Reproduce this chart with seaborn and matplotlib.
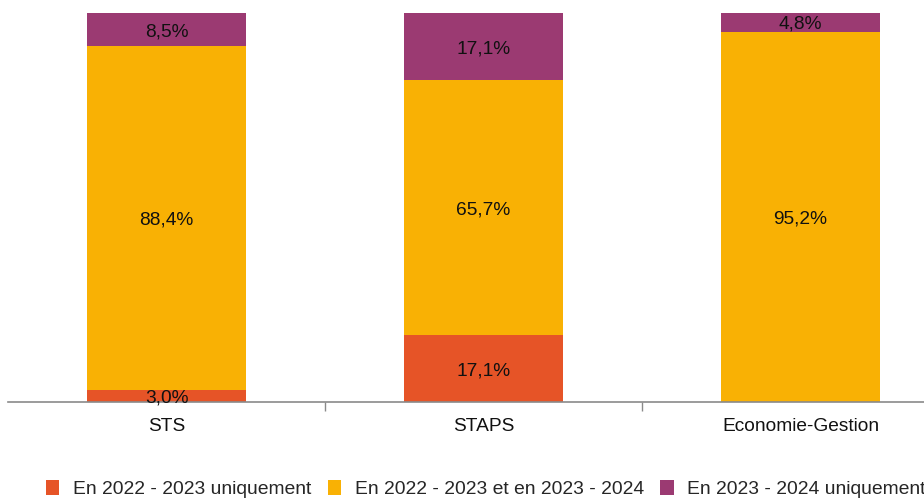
import matplotlib
matplotlib.use("Agg")
import matplotlib.pyplot as plt
import seaborn as sns
import pandas as pd
import numpy as np
from matplotlib.patches import Patch

categories = ["STS", "STAPS", "Economie-Gestion"]
series_names = ["En 2022 - 2023 uniquement", "En 2022 - 2023 et en 2023 - 2024", "En 2023 - 2024 uniquement"]
only_2022 = [3.0, 17.1, 0.0]
both_years = [88.4, 65.7, 95.2]
only_2023 = [8.5, 17.1, 4.8]
colors = ["#E65427", "#F9B104", "#9B3A72"]

sns.set_theme(style="white")
plt.rcParams["font.family"] = ["Liberation Sans", "DejaVu Sans"]

FS = 13.8
fig = plt.figure(figsize=(9.24, 4.99), dpi=100)
W, H = 924, 499
left_px, right_px = 8.0, 959.0
top_px, bot_px = 13, 402
ax = fig.add_axes([left_px / W, 1 - bot_px / H, (right_px - left_px) / W, (bot_px - top_px) / H])

series = [only_2022, both_years, only_2023]
cum = np.cumsum(np.array(series), axis=0)

# draw from the full stack down so lower segments cover upper ones
for i in range(2, -1, -1):
    df = pd.DataFrame({"cat": categories, "val": cum[i]})
    sns.barplot(data=df, x="cat", y="val", color=colors[i], width=0.5,
                saturation=1, ax=ax, edgecolor="none", linewidth=0)

for i, vals in enumerate(series):
    base = cum[i] - np.array(vals)
    for j, v in enumerate(vals):
        if v <= 0:
            continue
        ax.text(j, base[j] + v / 2, f"{v:.1f}%".replace(".", ","),
                ha="center", va="center_baseline", fontsize=FS, color="#111111")

ax.set_xlim(-0.5, 2.5)
ax.set_ylim(0, 100)
ax.set_xlabel("")
ax.set_ylabel("")
ax.set_yticks([])
for s in ["top", "left", "right"]:
    ax.spines[s].set_visible(False)
ax.spines["bottom"].set_color("#8a8a8a")
ax.spines["bottom"].set_linewidth(1.2)
ax.set_xticks([0, 1, 2])
ax.set_xticklabels(categories, fontsize=FS, color="#111111")
ax.tick_params(axis="x", which="major", length=0, pad=11.5)
ax.set_xticks([0.5, 1.5], minor=True)
ax.tick_params(axis="x", which="minor", length=6.5, width=1, color="#8a8a8a", direction="out", bottom=True)

handles = [Patch(facecolor=c, edgecolor="none") for c in colors]
fig.legend(handles, series_names, loc="center left", bbox_to_anchor=(46 / W, 1 - 489 / H),
           ncol=3, frameon=False, fontsize=13.9, handlelength=0.68, handleheight=0.78,
           handletextpad=0.72, columnspacing=0.85, borderaxespad=0, borderpad=0)

fig.savefig("out.png", dpi=100)
